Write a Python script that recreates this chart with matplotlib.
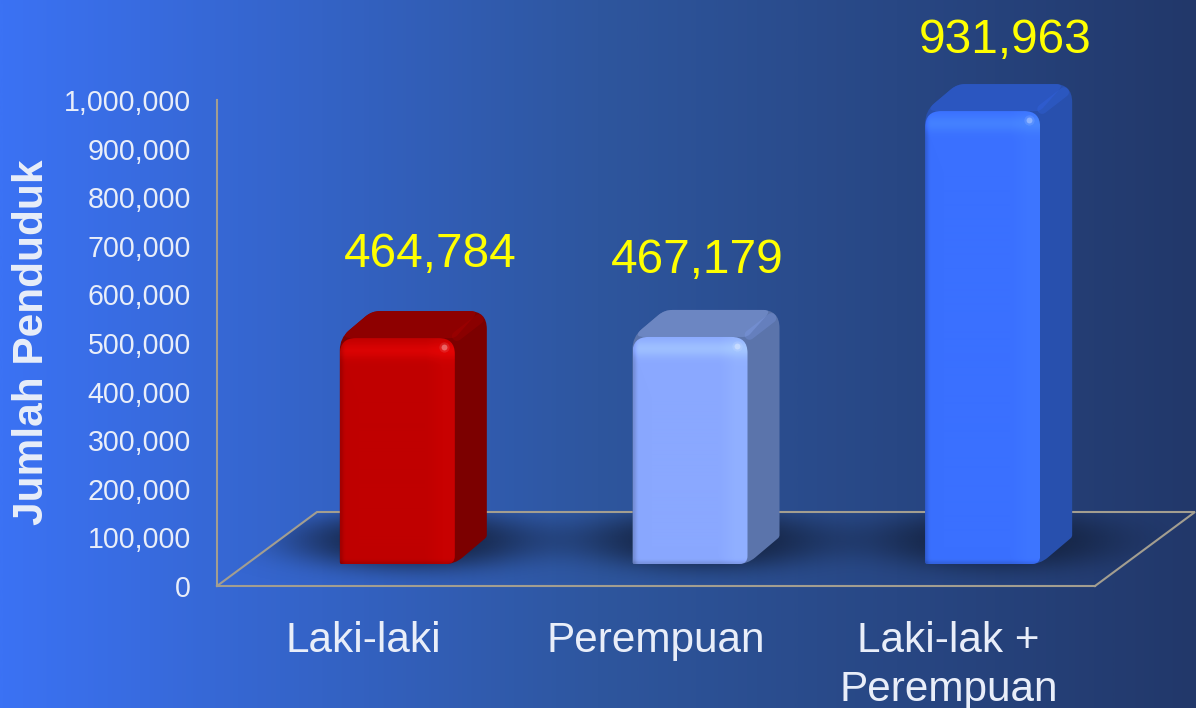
import numpy as np
import matplotlib
matplotlib.use("Agg")
import matplotlib.pyplot as plt
from matplotlib.colors import LinearSegmentedColormap, to_rgb
from matplotlib.path import Path
from matplotlib.patches import PathPatch, Polygon

# -------------------- DATA --------------------
categories = ["Laki-laki", "Perempuan", "Laki-lak +\nPerempuan"]
values = [464784, 467179, 931963]
value_labels = ["464,784", "467,179", "931,963"]
y_ticks = [0, 100000, 200000, 300000, 400000, 500000, 600000, 700000, 800000, 900000, 1000000]

front_colors = ["#c00000", "#8aa8ff", "#3a70ff"]
side_colors = ["#7c0000", "#5b74ab", "#2850ae"]
top_colors = ["#8e0000", "#6c86c2", "#2b56c0"]

# where the value labels sit, relative to the bar front (pixels)
label_dx = [33, 7, 22]
label_dy = [84, 76, 71]

# -------------------- LAYOUT --------------------
W, H = 1196, 708
AX_L, AX_R, AX_T, AX_B = 217, 1095, 100, 586
SX = (AX_R - AX_L) / 3.0
SY = (AX_B - AX_T) / 1000000.0

FLOOR_DX, FLOOR_DY = 100, 74
BAR_W = 115
FRONT_DX, FRONT_DY = 34, 22
DEPTH_DX, DEPTH_DY = 32, 27
GRAY = "#a39e90"
TEXT = "#e9eef9"

plt.rcParams["font.family"] = ["Liberation Sans", "DejaVu Sans"]


def rounded_path(pts, radii):
    # pts in data coords, corner radii in pixels
    p = np.array(pts, dtype=float) * [SX, SY]
    n = len(p)
    verts, codes = [], []
    for i in range(n):
        a, b, c = p[i - 1], p[i], p[(i + 1) % n]
        r = radii[i]
        start = b + (a - b) / np.linalg.norm(a - b) * r
        end = b + (c - b) / np.linalg.norm(c - b) * r
        verts.append(start)
        codes.append(Path.MOVETO if i == 0 else Path.LINETO)
        verts += [b, end]
        codes += [Path.CURVE3, Path.CURVE3]
    verts.append(verts[0])
    codes.append(Path.CLOSEPOLY)
    return Path(np.array(verts) / [SX, SY], codes)


def front_shading(color, nrows):
    # flat face, slightly brighter band on the right and along the top, faint dark rim on the left
    base = np.array(to_rgb(color))
    u = np.linspace(0, 1, BAR_W)[None, :]
    v = np.linspace(0, 1, nrows)[:, None]
    light = 0.04 * np.clip((u - 0.75) / 0.15, 0, 1)
    light = light + 0.12 * np.exp(-((1 - v) * nrows - 12) ** 2 / 70.0) * np.ones_like(u)
    dark = 0.15 * np.exp(-(u * BAR_W) ** 2 / 10.0) + 0.12 * np.exp(-(v * nrows) ** 2 / 8.0)
    rgb = base[None, None, :] * (1 - dark[:, :, None]) * (1 + light[:, :, None])
    return np.clip(rgb + 0.1 * light[:, :, None], 0, 1)


def draw_bar(ax, x, value, front, side, top):
    x0 = x + (FRONT_DX - BAR_W / 2) / SX
    x1 = x0 + BAR_W / SX
    y0 = FRONT_DY / SY
    y1 = y0 + value
    ddx, ddy = DEPTH_DX / SX, DEPTH_DY / SY

    shell = [(x0, y0), (x0, y1), (x0 + ddx, y1 + ddy), (x1 + ddx, y1 + ddy), (x1 + ddx, y0 + ddy), (x1, y0)]
    ax.add_patch(PathPatch(rounded_path(shell, [2, 12, 8, 18, 2, 10]), fc=side, ec="none",
                           zorder=3, clip_on=False))

    top_face = [(x0, y1), (x0 + ddx, y1 + ddy), (x1 + ddx - 8 / SX, y1 + ddy), (x1, y1)]
    ax.add_patch(PathPatch(rounded_path(top_face, [12, 8, 8, 4]), fc=top, ec="none",
                           zorder=3.1, clip_on=False))

    # bevel running from the front corner to the back corner
    ax.plot([x1 + 2 / SX, x1 + ddx - 8 / SX], [y1 + 2 / SY, y1 + ddy - 8 / SY], color=front, lw=7,
            alpha=0.22, solid_capstyle="round", zorder=3.2, clip_on=False)

    face = [(x0, y0), (x0, y1), (x1, y1), (x1, y0)]
    face_path = rounded_path(face, [2, 16, 16, 8])
    nrows = int(value * SY)
    im = ax.imshow(front_shading(front, nrows), extent=(x0, x1, y0, y1), origin="lower",
                   aspect="auto", interpolation="bilinear", zorder=3.3)
    im.set_clip_box(ax.figure.bbox)
    im.set_clip_path(PathPatch(face_path, transform=ax.transData))

    # small glint at the top right corner
    gx, gy = x1 - 11 / SX, y1 - 9 / SY
    ax.scatter([gx], [gy], s=55, color="white", alpha=0.10, linewidths=0, zorder=3.4, clip_on=False)
    ax.scatter([gx], [gy], s=18, color="white", alpha=0.32, linewidths=0, zorder=3.5, clip_on=False)


def main():
    fig = plt.figure(figsize=(W / 100, H / 100), dpi=100)

    # background gradient
    bg = fig.add_axes([0, 0, 1, 1])
    cmap = LinearSegmentedColormap.from_list("bg", ["#3b72f4", "#2e569e", "#22386a"])
    bg.imshow(np.linspace(0, 1, 512)[None, :], cmap=cmap, aspect="auto", extent=(0, 1, 0, 1))
    bg.axis("off")

    ax = fig.add_axes([AX_L / W, 1 - AX_B / H, (AX_R - AX_L) / W, (AX_B - AX_T) / H])
    ax.patch.set_alpha(0)
    x = np.arange(len(categories))
    xlim, ylim = (-0.5, 2.5), (0, 1000000)

    # floor shadow
    fdx, fdy = FLOOR_DX / SX, FLOOR_DY / SY
    floor = [(-0.5, 0), (2.5, 0), (2.5 + fdx, fdy), (-0.5 + fdx, fdy)]
    gx = np.linspace(0, AX_R - AX_L + FLOOR_DX, 500)
    gy = np.linspace(0, FLOOR_DY, 80)
    xx, yy = np.meshgrid(gx, gy)
    alpha = np.zeros_like(xx)
    for xi in x:
        cx = (xi + 0.5) * SX + FRONT_DX + DEPTH_DX / 2
        d = np.sqrt(((xx - cx) / 125.0) ** 2 + ((yy - 46) / 30.0) ** 2)
        alpha += np.exp(-d ** 3)
    shadow = np.zeros(xx.shape + (4,))
    shadow[..., :3] = to_rgb("#14223f")
    shadow[..., 3] = np.clip(alpha, 0, 1) * 0.92
    im = ax.imshow(shadow, extent=(-0.5, 2.5 + fdx, 0, fdy), origin="lower", aspect="auto", zorder=1)
    im.set_clip_box(fig.bbox)
    im.set_clip_path(Polygon(floor, transform=ax.transData))

    # floor outline
    ax.plot([-0.5, -0.5 + fdx, 2.5 + fdx, 2.5], [0, fdy, fdy, 0], color=GRAY, lw=1.5,
            clip_on=False, zorder=2, solid_joinstyle="miter")

    for i, xi in enumerate(x):
        draw_bar(ax, xi, values[i], front_colors[i], side_colors[i], top_colors[i])
        ax.annotate(value_labels[i], xy=(xi + FRONT_DX / SX, values[i] + FRONT_DY / SY),
                    xytext=(label_dx[i] * 0.72, label_dy[i] * 0.72), textcoords="offset points",
                    ha="center", va="center", fontsize=34.4, color="#ffff00",
                    annotation_clip=False, zorder=5)

    ax.set_xlim(xlim)
    ax.set_ylim(ylim)

    ax.set_yticks(y_ticks)
    ax.set_yticklabels([f"{v:,}" for v in y_ticks], fontsize=20.6, color=TEXT)
    ax.set_xticks(x)
    ax.set_xticklabels(categories, fontsize=30.4, color=TEXT, linespacing=1.3)
    ax.tick_params(axis="y", length=0, pad=18.7)
    ax.tick_params(axis="x", length=0, pad=25)

    for name in ["top", "right"]:
        ax.spines[name].set_visible(False)
    for name in ["left", "bottom"]:
        ax.spines[name].set_color(GRAY)
        ax.spines[name].set_linewidth(1.5)

    fig.text(32 / W, 1 - 342 / H, "Jumlah Penduduk", rotation=90, ha="center", va="center",
             fontsize=30.5, fontweight="bold", color=TEXT)

    fig.savefig("out.png", dpi=100)


if __name__ == "__main__":
    main()
